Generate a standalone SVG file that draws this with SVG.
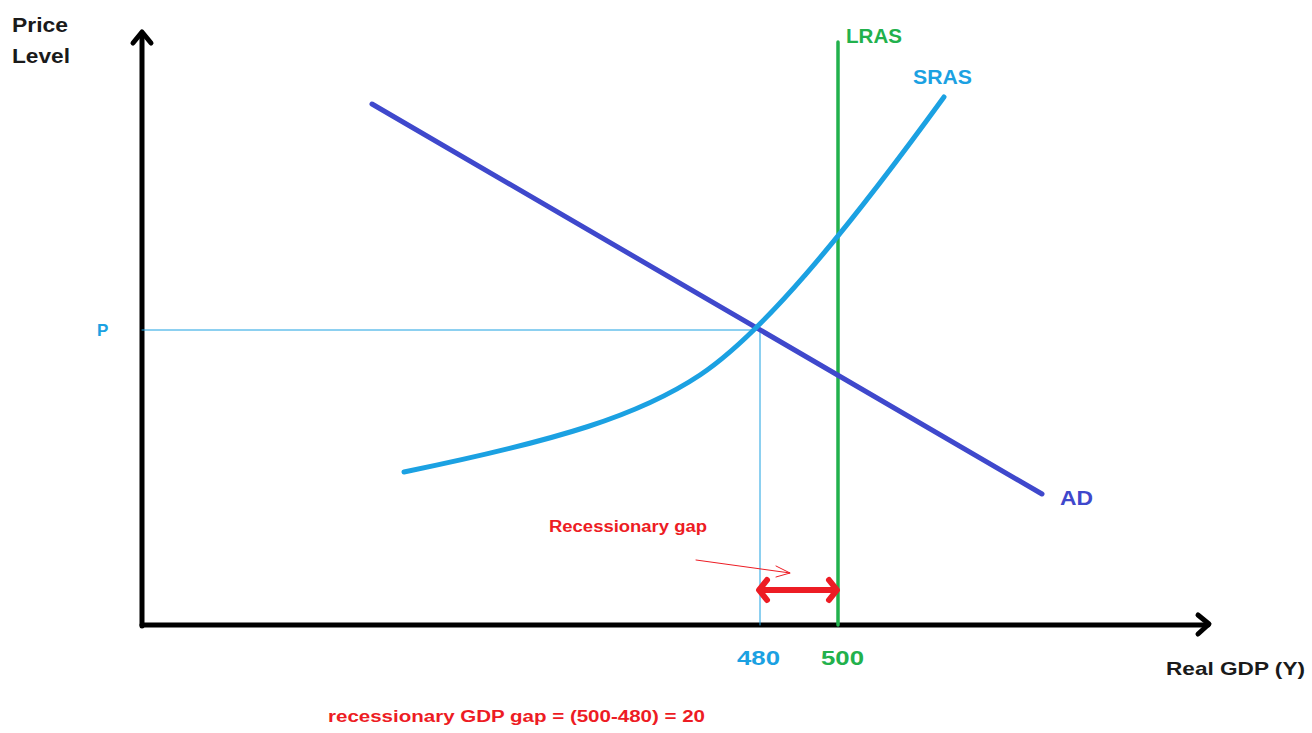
<svg xmlns="http://www.w3.org/2000/svg" width="1312" height="733" viewBox="0 0 1312 733">
<style>
.t{font-family:"Liberation Sans",Arial,sans-serif;font-weight:bold}
.dark{fill:#1a1a1a}
.blue{fill:#1ba1e2}
.green{fill:#22b14c}
.navy{fill:#3f48cc}
.red{fill:#ed1c24}
</style>
<rect width="1312" height="733" fill="#ffffff"/>
<g id="axes" fill="none" stroke="#000" stroke-width="5" stroke-linecap="round" stroke-linejoin="round">
<path d="M142,626 V34"/>
<path d="M133,43 L142,32 L151,43"/>
<path d="M142,625 H1208"/>
<path d="M1198,615 L1209,624 L1198,634"/>
</g>
<g id="connectors" fill="none" stroke-linecap="round">
<path d="M142,330 H760 V625" stroke="#1ba1e2" stroke-width="1"/>
<path d="M838,42 V625" stroke="#22b14c" stroke-width="3.5"/>
<path d="M372,104 L1042,494" stroke="#3f48cc" stroke-width="5"/>
<path d="M404,472 C560,440 640,415 700,375 S840,240 944,97" stroke="#1ba1e2" stroke-width="5"/>
<path d="M760,590 H836" stroke="#ed1c24" stroke-width="6"/>
<path d="M767,580 L759,590 L767,600 M829,580 L837,590 L829,600" stroke="#ed1c24" stroke-width="6" stroke-linejoin="round"/>
<path d="M696,560 L790,573 M776,566 L790,573 L776,577" stroke="#ed1c24" stroke-width="1"/>
</g>
<g id="labels">
<text class="t dark" x="12" y="32" font-size="20" textLength="56" lengthAdjust="spacingAndGlyphs">Price</text>
<text class="t dark" x="12" y="63" font-size="20" textLength="58" lengthAdjust="spacingAndGlyphs">Level</text>
<text class="t blue" x="97" y="336" font-size="17">P</text>
<text class="t green" x="846" y="43" font-size="20" textLength="56" lengthAdjust="spacingAndGlyphs">LRAS</text>
<text class="t blue" x="913" y="84" font-size="20" textLength="59" lengthAdjust="spacingAndGlyphs">SRAS</text>
<text class="t navy" x="1060" y="505" font-size="20" textLength="33" lengthAdjust="spacingAndGlyphs">AD</text>
<text class="t blue" x="737" y="665" font-size="21" textLength="43" lengthAdjust="spacingAndGlyphs">480</text>
<text class="t green" x="821" y="665" font-size="21" textLength="43" lengthAdjust="spacingAndGlyphs">500</text>
<text class="t dark" x="1166" y="675" font-size="19" textLength="139" lengthAdjust="spacingAndGlyphs">Real GDP (Y)</text>
<text class="t red" x="549" y="532" font-size="16" textLength="158" lengthAdjust="spacingAndGlyphs">Recessionary gap</text>
<text class="t red" x="328" y="722" font-size="16" textLength="377" lengthAdjust="spacingAndGlyphs">recessionary GDP gap = (500-480) = 20</text>
</g>
</svg>
